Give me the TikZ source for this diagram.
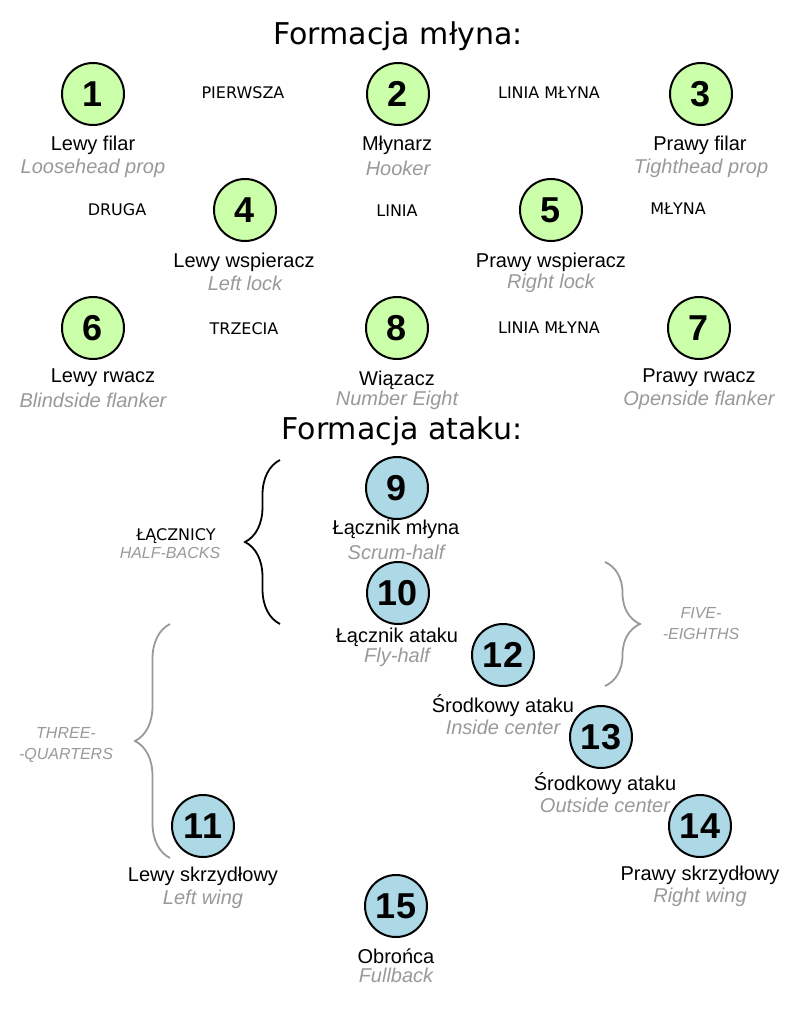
\documentclass[tikz,border=0pt]{standalone}
\usepackage{fontspec}
\setmainfont{Liberation Sans}
\newfontfamily\dejavu{DejaVu Sans}
\usepackage{tikz}
\usetikzlibrary{decorations.pathreplacing}
\definecolor{zielony}{HTML}{CCFFAA}
\definecolor{niebieski}{HTML}{ADD8E6}
\definecolor{szary}{HTML}{999999}
\tikzset{
  gracz/.style={circle, draw, line width=2pt, fill=#1, minimum size=62pt, inner sep=0pt, font=\fontsize{36}{36}\selectfont\bfseries},
  nazwa/.style={font=\fontsize{20}{20}\selectfont, inner sep=0pt},
  ang/.style={font=\fontsize{20}{20}\selectfont\itshape, text=szary, inner sep=0pt},
  linia/.style={font=\dejavu\fontsize{16}{16}\selectfont, inner sep=0pt},
  tytul/.style={font=\dejavu\fontsize{30}{30}\selectfont, inner sep=0pt},
  grupa/.style={font=\fontsize{16}{21}\selectfont\itshape, text=szary, align=center, inner sep=0pt},
  klamra/.style={decorate, decoration={brace, amplitude=35pt}, line width=1.8pt},
}
\begin{document}
\begin{tikzpicture}[x=1pt, y=-1pt]
  \useasboundingbox (0,0) rectangle (800,1014);
  % tytuly
  \node[tytul] (t1) at (398,36) {Formacja młyna:};
  \node[tytul] (t2) at (402,431) {Formacja ataku:};
  % mlyn
  \foreach \n/\x/\y/\nx/\ny/\ey/\pl/\en in {
    1/93/94/93/145/168/Lewy filar/Loosehead prop,
    2/398/94/397/145/168/Młynarz/Hooker,
    3/701/94/700/145/168/Prawy filar/Tighthead prop,
    4/245/210/244/262/283/Lewy wspieracz/Left lock,
    5/551/210/551/262/283/Prawy wspieracz/Right lock,
    6/93/328/103/378/400/Lewy rwacz/Blindside flanker,
    8/397/328/397/380/400/Wiązacz/Number Eight,
    7/699/328/699/378/400/Prawy rwacz/Openside flanker}{
    \node[gracz=zielony] (g\n) at (\x,\y) {\n};
    \node[nazwa] (p\n) at (\nx,\ny) {\pl};
    \node[ang] (e\n) at (\x,\ey) {\en};
  }
  \foreach \t/\x/\y [count=\i] in {PIERWSZA/243/93, LINIA MŁYNA/549/93, DRUGA/117/210,
    LINIA/397/211, MŁYNA/678/209, TRZECIA/244/329, LINIA MŁYNA/549/328}{
    \node[linia] (lin\i) at (\x,\y) {\t};
  }
  % atak
  \foreach \n/\x/\y/\nx/\ny/\ey/\pl/\en in {
    9/397/488/396/529/552/Łącznik młyna/Scrum-half,
    10/398/593/397/637/657/Łącznik ataku/Fly-half,
    12/503/655/503/706/727/Środkowy ataku/Inside center,
    13/601/737/605/784/805/Środkowy ataku/Outside center,
    11/203/826/203/876/899/Lewy skrzydłowy/Left wing,
    14/700/826/700/875/897/Prawy skrzydłowy/Right wing,
    15/396/906/396/956/975/Obrońca/Fullback}{
    \node[gracz=niebieski] (g\n) at (\x,\y) {\n};
    \node[nazwa] (p\n) at (\nx,\ny) {\pl};
    \node[ang] (e\n) at (\nx,\ey) {\en};
  }
  % klamry
  \draw[klamra] (280,624) -- (280,460);
  \draw[klamra, szary] (170,858) -- (170,624);
  \draw[klamra, szary] (605,562) -- (605,686);
  \node[linia] (lacznicy) at (176,536) {ŁĄCZNICY};
  \node[grupa] (halfbacks) at (170,553) {HALF-BACKS};
  \node[grupa] (threeq) at (66,745) {THREE-\\-QUARTERS};
  \node[grupa] (fivee) at (701,624) {FIVE-\\-EIGHTHS};
\end{tikzpicture}
\end{document}
